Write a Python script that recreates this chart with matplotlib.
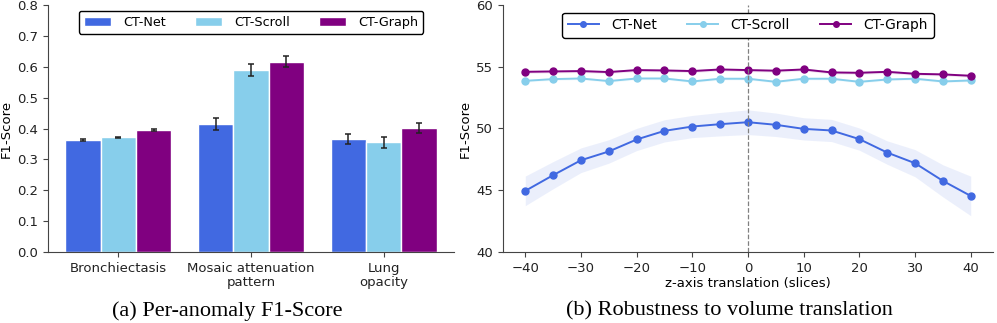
import numpy as np
import matplotlib
matplotlib.use("Agg")
import matplotlib.pyplot as plt

# ---- data: (a) per-anomaly F1 ----
anomalies = ["Bronchiectasis", "Mosaic attenuation\npattern", "Lung\nopacity"]
models = ["CT-Net", "CT-Scroll", "CT-Graph"]
colors = ["#4169E1", "#87CEEB", "#800080"]
f1_net = [0.363, 0.414, 0.366]
f1_scroll = [0.371, 0.590, 0.355]
f1_graph = [0.394, 0.616, 0.402]
err_net = [0.004, 0.020, 0.016]
err_scroll = [0.003, 0.020, 0.017]
err_graph = [0.003, 0.018, 0.017]

# ---- data: (b) robustness to z translation ----
shifts = [-40, -35, -30, -25, -20, -15, -10, -5, 0, 5, 10, 15, 20, 25, 30, 35, 40]
net_mean = [44.95, 46.22, 47.43, 48.14, 49.11, 49.81, 50.16, 50.35, 50.51,
            50.30, 49.97, 49.84, 49.14, 48.05, 47.19, 45.76, 44.54]
net_std = [1.2, 1.1, 1.0, 0.95, 0.9, 0.9, 0.9, 0.95, 1.0,
           0.95, 0.9, 0.9, 0.9, 0.95, 1.1, 1.3, 1.6]
scroll_mean = [53.86, 54.00, 54.05, 53.84, 54.05, 54.05, 53.81, 54.03, 54.03,
               53.78, 54.03, 54.03, 53.78, 53.97, 54.03, 53.81, 53.89]
scroll_std = [0.1] * 17
graph_mean = [54.59, 54.62, 54.65, 54.57, 54.73, 54.70, 54.65, 54.78, 54.73,
              54.68, 54.78, 54.54, 54.51, 54.59, 54.43, 54.38, 54.27]
graph_std = [0.12] * 17

plt.rcParams["font.family"] = "DejaVu Sans"
plt.rcParams["font.size"] = 9.5
plt.rcParams["axes.edgecolor"] = "#444444"
plt.rcParams["xtick.color"] = "#444444"
plt.rcParams["ytick.color"] = "#444444"
plt.rcParams["xtick.labelcolor"] = "#222222"
plt.rcParams["ytick.labelcolor"] = "#222222"

fig = plt.figure(figsize=(9.97, 3.23), dpi=100)
W, H = 997, 323
ax1 = fig.add_axes([48 / W, 71 / H, 406 / W, 247 / H])
ax2 = fig.add_axes([503 / W, 71 / H, 490 / W, 247 / H])

# (a) grouped bars
x = np.arange(len(anomalies))
bw = 0.8 / 3
for i, (vals, errs) in enumerate([(f1_net, err_net), (f1_scroll, err_scroll), (f1_graph, err_graph)]):
    ax1.bar(x + (i - 1) * bw, vals, bw, color=colors[i], edgecolor="white",
            linewidth=1.0, label=models[i], yerr=errs, capsize=2.5,
            error_kw=dict(ecolor="#222222", elinewidth=1.1, capthick=1.1))
ax1.set_xticks(x)
ax1.set_xticklabels(anomalies, linespacing=1.1)
ax1.set_xlim(-0.53, 2.53)
ax1.set_ylim(0, 0.8)
ax1.set_yticks(np.arange(0, 0.81, 0.1))
ax1.set_ylabel("F1-Score", labelpad=3)
ax1.spines["top"].set_visible(False)
ax1.spines["right"].set_visible(False)
ax1.legend(loc="upper center", ncol=3, frameon=True, edgecolor="black",
           fancybox=True, framealpha=1, fontsize=9.2, columnspacing=2.3,
           handlelength=2.1, handletextpad=0.95, borderaxespad=0.45)

# (b) lines with shaded std
series = [(net_mean, net_std), (scroll_mean, scroll_std), (graph_mean, graph_std)]
for i, (m, s) in enumerate(series):
    m = np.array(m)
    s = np.array(s)
    ax2.fill_between(shifts, m - s, m + s, color=colors[i], alpha=0.1, linewidth=0)
    ax2.plot(shifts, m, marker="o", markersize=5, linewidth=1.4,
             color=colors[i], label=models[i])
ax2.axvline(0, color="gray", linestyle="--", linewidth=0.9)
ax2.set_xlim(-44, 44)
ax2.set_ylim(40, 60)
ax2.set_xticks(range(-40, 41, 10))
ax2.set_yticks(range(40, 61, 5))
ax2.set_xlabel("z-axis translation (slices)", labelpad=2)
ax2.set_ylabel("F1-Score", labelpad=3)
ax2.spines["top"].set_visible(False)
ax2.spines["right"].set_visible(False)
ax2.legend(loc="upper center", ncol=3, frameon=True, edgecolor="black",
           fancybox=True, framealpha=1, fontsize=9.9, columnspacing=2.2,
           handlelength=2.25, handletextpad=0.9, markerscale=0.8,
           borderaxespad=0.55)

# captions
fig.text(227 / W, 1 - 311 / H, "(a) Per-anomaly F1-Score", ha="center", va="center",
         family="Liberation Serif", fontsize=16)
fig.text(729 / W, 1 - 311 / H, "(b) Robustness to volume translation", ha="center",
         va="center", family="Liberation Serif", fontsize=16)

fig.savefig("out.png", dpi=100)
